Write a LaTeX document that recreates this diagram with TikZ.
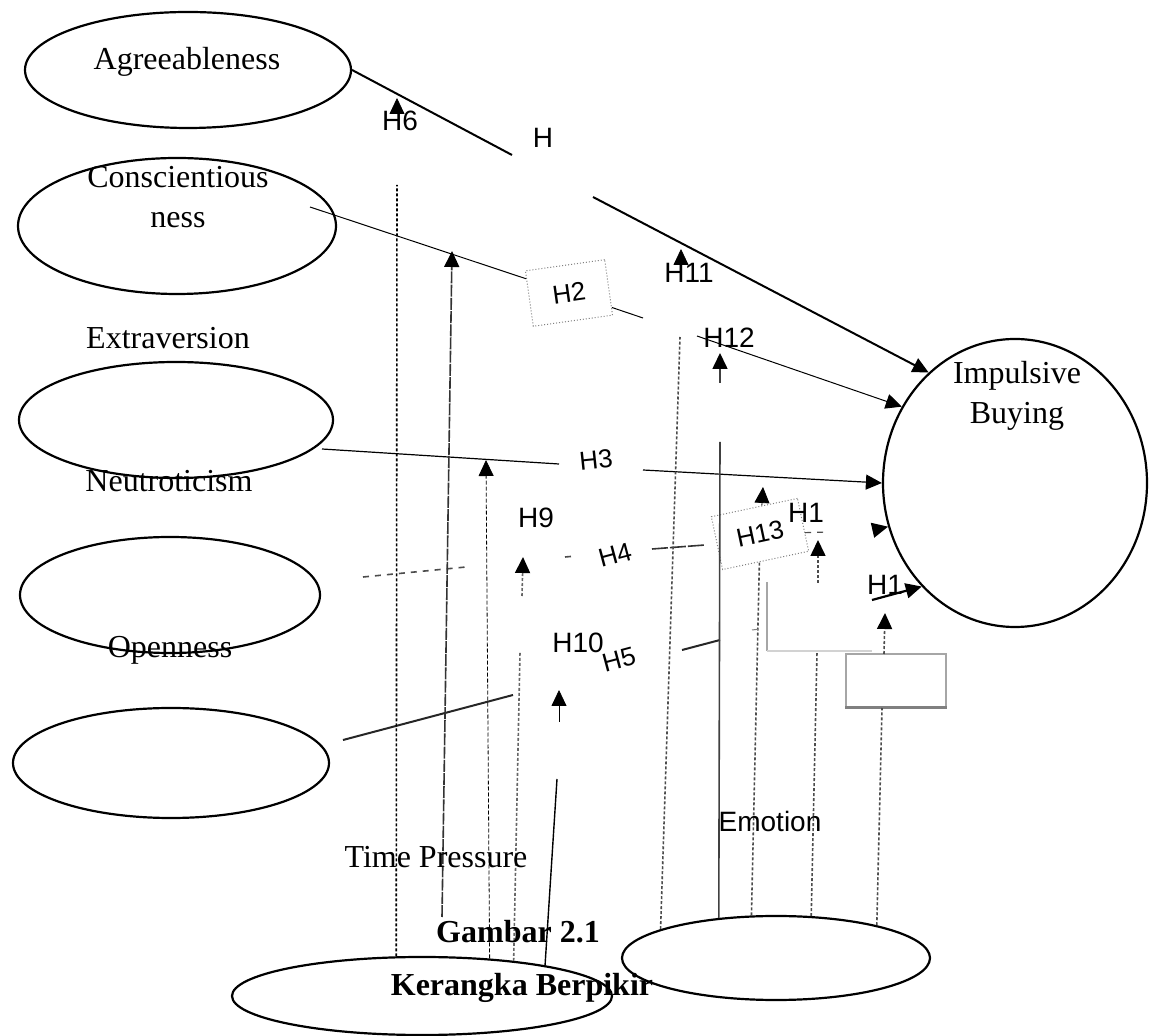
\documentclass[tikz,border=0pt]{standalone}
\usepackage{fontspec}
\setmainfont{Liberation Serif}
\setsansfont{Liberation Sans}
\usetikzlibrary{shapes.geometric,arrows.meta}

\begin{document}
\begin{tikzpicture}
  [x=0.5pt,y=-0.5pt,every node/.style={inner sep=0pt}]
  \tikzstyle{trait} = [draw,ellipse,line width=1.1pt]
  \tikzstyle{serif} = [font=\fontsize{16}{20}\selectfont,align=center]
  \tikzstyle{caption} = [font=\bfseries\fontsize{16}{20}\selectfont]
  \tikzstyle{hlab} = [font=\sffamily\fontsize{14}{16}\selectfont]
  \tikzstyle{hrot} = [font=\sffamily\fontsize{13}{15}\selectfont]
  \tikzstyle{hbox} = [draw=black!50,densely dotted,line width=0.5pt,fill=white,font=\sffamily\fontsize{13}{15}\selectfont]
  \tikzstyle{tip} = [-{Triangle[length=8pt,width=7.5pt,color=black]}]
  \tikzstyle{dots} = [dash pattern=on 1.5pt off 1pt]
  \useasboundingbox (0,0) rectangle (1152,1036);

  % ellipses
  \node[trait,minimum width=163pt,minimum height=58pt] (agreeEll) at (188,70) {};
  \node[trait,minimum width=159pt,minimum height=68pt] (conscEll) at (177,226) {};
  \node[trait,minimum width=157pt,minimum height=58pt] (extraEll) at (176,420) {};
  \node[trait,minimum width=150pt,minimum height=58pt] (neuroEll) at (170,595) {};
  \node[trait,minimum width=158pt,minimum height=55pt] (openEll) at (171,763) {};
  \node[trait,minimum width=132pt,minimum height=144pt] (impulse) at (1015,483) {};
  \node[trait,minimum width=190pt,minimum height=39pt] (timeEll) at (422,996) {};
  \node[trait,minimum width=154pt,minimum height=42pt] (emoEll) at (776,958) {};

  \foreach \name/\x/\y in {ag1/512/155, ag2/593/197, cs0/310/207, cs1/643/318, cs2/697/336,
      ex0/322/449, ex1/559/464, ex2/643/470, nr0/363/577, nr1/466/567, nr2/565/557, nr3/576/556,
      nr4/652/549, nr5/705/545, nr6/828/532, nr7/878/529, op0/343/740, op1/513/695, op2/682/650,
      op3/720/640, op4/872/600, aTop/397/185, h6s/397/113, h6t/397/98, bBot/442/917, bTop/452/251,
      cTop/486/460, dTop/520/652, h9s/522/596, h9t/523/557, eTop/557/779, h10s/559/722, h10t/559/690,
      fTop/680/337, h11s/681/268, h11t/681/249, gTop/720/442, h12s/720/383, h12t/720/353,
      h13t/763/487, iTop/817/652, h1as/818/583, h1at/818/540, jTop/882/708, jMid/884/654,
      h1bt/885/613, lA/767/582, lB/767/651, lC/872/651, tk0/752/630, tk1/760/629}
    \coordinate (\name) at (\x,\y);

  % boxes
  \node[hbox,rotate=8,minimum width=40pt,minimum height=28pt] (h2box) at (569,293) {H2};
  \node[hbox,rotate=12,minimum width=44pt,minimum height=27pt] (h13box) at (760,534) {H13};
  \node[draw=gray!70,line width=0.6pt,minimum width=50pt,minimum height=26.5pt] (rectBox) at (896,680.5) {};
  \draw[gray,line width=1.5pt] (rectBox.south west) -- (rectBox.south east);

  % hypothesis lines
  \draw[line width=1pt] (agreeEll.east) -- (ag1);
  \draw[line width=1pt,tip] (ag2) -- (impulse.128);
  \draw[line width=0.5pt] (cs0) -- (h2box);
  \draw[line width=0.5pt] (h2box) -- (cs1);
  \draw[line width=0.5pt,tip] (cs2) -- (impulse.146);
  \draw[line width=0.6pt] (ex0) -- (ex1);
  \draw[line width=0.6pt,tip] (ex2) -- (impulse.west);
  \draw[black!70,dashed,line width=0.8pt] (nr0) -- (nr1);
  \draw[black!70,dashed,line width=0.8pt] (nr2) -- (nr3);
  \draw[black!80,dash pattern=on 8pt off 1pt,line width=0.8pt] (nr4) -- (nr5);
  \draw[black!70,dashed,line width=0.6pt] (h13box) -- (nr6);
  \draw[line width=0.8pt,tip] (nr7) -- (impulse.199);
  \draw[black!85,line width=1pt] (op0) -- (op1);
  \draw[black!85,line width=1pt] (op2) -- (op3);
  \draw[line width=1.1pt,tip] (op4) -- (impulse.228);

  % moderators
  \draw[dots,line width=0.8pt] (timeEll.123) -- (aTop);
  \draw[tip] (h6s) -- (h6t);
  \draw[black!80,dash pattern=on 6pt off 0.6pt,line width=0.8pt,tip] (bBot) -- (bTop);
  \draw[dash pattern=on 2pt off 1pt,line width=0.4pt,tip] (timeEll.29) -- (cTop);
  \draw[black!60,dots,line width=0.8pt] (timeEll.21) -- (dTop);
  \draw[black!60,dots,line width=0.8pt,tip] (h9s) -- (h9t);
  \draw[line width=0.7pt] (timeEll.14) -- (eTop);
  \draw[tip] (h10s) -- (h10t);
  \draw[black!70,dots,line width=0.8pt] (emoEll.166) -- (fTop);
  \draw[tip] (h11s) -- (h11t);
  \draw[black!75,line width=0.8pt] (emoEll.145) -- (gTop);
  \draw[black!75,line width=0.8pt,tip] (h12s) -- (h12t);
  \draw[black!70,dots,line width=0.8pt] (emoEll.120) -- (h13box);
  \draw[tip] (h13box) -- (h13t);
  \draw[black!70,dots,line width=0.8pt] (emoEll.50) -- (iTop);
  \draw[black!70,dots,line width=0.8pt,tip] (h1as) -- (h1at);
  \draw[black!70,dots,line width=0.8pt] (emoEll.18) -- (jTop);
  \draw[black!70,dots,line width=0.8pt,tip] (jMid) -- (h1bt);
  \draw[gray!70,line width=0.6pt] (lA) -- (lB);
  \draw[gray!35,line width=0.6pt] (lB) -- (lC);
  \draw[gray,dashed,line width=0.5pt] (tk0) -- (tk1);

  % labels
  \node[serif] (agreeLab) at (187,62) {Agreeableness};
  \node[serif] (conscLab) at (178,197) {Conscientious\\ness};
  \node[serif] (extraLab) at (168,338) {Extraversion};
  \node[serif] (neuroLab) at (169,481) {Neutroticism};
  \node[serif] (openLab) at (170,650) {Openness};
  \node[serif] (impLab) at (1017,396) {Impulsive\\Buying};
  \node[serif] (timeLab) at (436,857) {Time Pressure};
  \node[hlab] (emoLab) at (770,821) {Emotion};
  \node[caption] (figNum) at (518,932) {Gambar 2.1};
  \node[caption] (figTitle) at (522,988) {Kerangka Berpikir};

\foreach \name/\x/\y/\txt in {hSix/400/121/H6, hTop/543/138/H, hEleven/689/273/H11,
    hTwelve/729/338/H12, hNine/536/518/H9, hTen/578/643/H10, hOneA/806/513/H1, hOneB/885/585/H1}
   \node[hlab] (\name) at (\x,\y) {\txt};
  \node[hrot,rotate=6] (hThree) at (596,460) {H3};
  \node[hrot,rotate=15] (hFour) at (615,555) {H4};
  \node[hrot,rotate=15] (hFive) at (619,660) {H5};

\end{tikzpicture}
\end{document}
